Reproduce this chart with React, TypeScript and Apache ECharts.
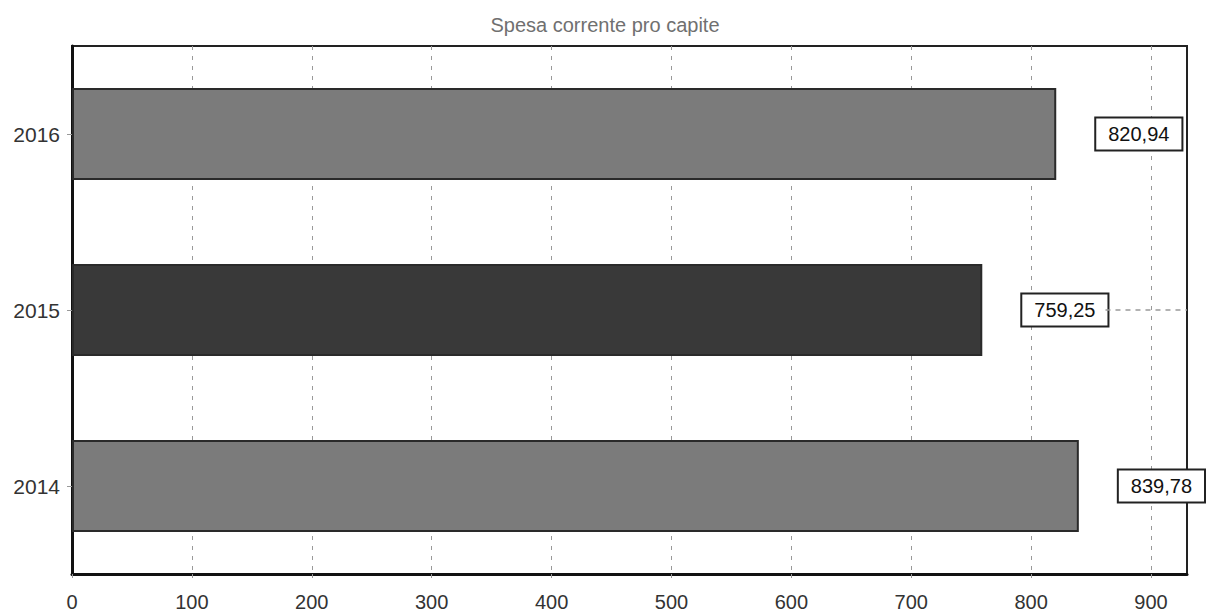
import React, { useEffect, useRef } from "react";
import * as echarts from "echarts";

const years = ["2014", "2015", "2016"];
const values = [839.78, 759.25, 820.94];
const barColors = ["#7b7b7b", "#393939", "#7b7b7b"];
const xTicks = [0, 100, 200, 300, 400, 500, 600, 700, 800, 900];
const titleText = "Spesa corrente pro capite";

export default function App() {
  const ref = useRef<HTMLDivElement>(null);
  useEffect(() => {
    if (!ref.current) return;
    const chart = echarts.init(ref.current, null, { renderer: "svg" });
    chart.setOption({
      animation: false,
      backgroundColor: "#ffffff",
      title: {
        text: titleText,
        left: 600,
        textAlign: "center",
        top: 10,
        textStyle: {
          fontFamily: "Liberation Sans",
          fontSize: 20,
          fontWeight: "normal",
          color: "#707070",
        },
      },
      grid: {
        left: 72,
        right: 22,
        top: 46,
        bottom: 38,
        show: true,
        borderColor: "#222",
        borderWidth: 2,
        containLabel: false,
      },
      xAxis: {
        type: "value",
        min: 0,
        max: 930,
        interval: 100,
        axisLine: { show: true, lineStyle: { color: "#111", width: 3 } },
        axisTick: { show: true, length: 4, lineStyle: { color: "#999" } },
        axisLabel: {
          showMaxLabel: false,
          margin: 18,
          fontFamily: "Liberation Sans",
          fontSize: 20,
          color: "#333",
          formatter: (v: number) => (xTicks.includes(v) ? String(v) : ""),
        },
        splitLine: {
          show: true,
          showMinLine: false,
          showMaxLine: false,
          lineStyle: { color: "#999", type: [4, 6], width: 1 },
        },
      },
      yAxis: {
        type: "category",
        data: years,
        axisLine: { show: true, lineStyle: { color: "#111", width: 3 } },
        axisTick: { show: true, alignWithLabel: true, length: 5, lineStyle: { color: "#999" } },
        axisLabel: {
          margin: 12,
          fontFamily: "Liberation Sans",
          fontSize: 21,
          color: "#333",
        },
        splitLine: { show: false },
      },
      series: [
        {
          type: "bar",
          barWidth: 92,
          data: values.map((v, i) => ({
            value: v,
            itemStyle: { color: barColors[i] },
          })),
          itemStyle: { borderColor: "#2a2a2a", borderWidth: 2 },
          label: {
            show: true,
            position: "right",
            distance: 40,
            formatter: (p: any) => p.value.toFixed(2).replace(".", ","),
            fontFamily: "Liberation Sans",
            fontSize: 20,
            color: "#111",
            backgroundColor: "#fff",
            borderColor: "#222",
            borderWidth: 2,
            padding: [6, 12, 5, 12],
          },
          markLine: {
            silent: true,
            symbol: "none",
            label: { show: false },
            lineStyle: { color: "#999", type: [5, 5], width: 1.5 },
            data: [
              [
                { coord: [862, "2015"] },
                { coord: [930, "2015"] },
              ],
            ],
          },
        },
      ],
    });
    return () => chart.dispose();
  }, []);
  return <div ref={ref} style={{ width: 1209, height: 612, position: "absolute", left: 0, top: 0 }} />;
}
